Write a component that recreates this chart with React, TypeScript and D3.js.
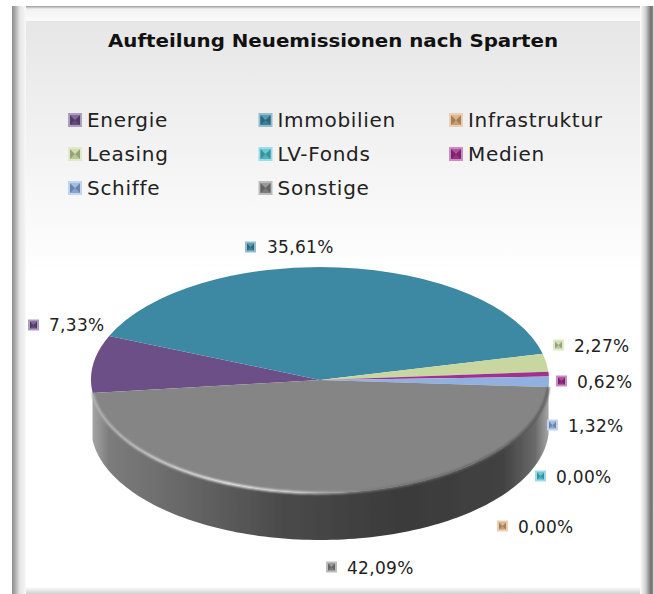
import React from 'react';
import * as d3 from 'd3';

const title = 'Aufteilung Neuemissionen nach Sparten';
const categories = ['Energie', 'Immobilien', 'Infrastruktur', 'Leasing', 'LV-Fonds', 'Medien', 'Schiffe', 'Sonstige'];
const values = [7.33, 35.61, 0, 2.27, 0, 0.62, 1.32, 42.09];
const colors = ['#6c4f87', '#3d89a3', '#d9a878', '#c8d7a0', '#4fc0d0', '#a0308f', '#90b0e0', '#858585'];

// where the value labels sit: marker left, marker centre y, text x, text baseline
const labelSpots = [
  [28, 325, 49, 331],
  [245, 247, 267, 253],
  [497, 526, 518, 533],
  [553, 345, 574, 352],
  [535, 476, 556, 483],
  [556, 381, 577, 388],
  [547, 425, 568, 432],
  [326, 567, 347, 574],
];

const W = 654;
const H = 594;
const cx = 320;
const cy = 380;
const rx = 229;
const ry = 113;
const depth = 47;
const startAngle = (263.4 * Math.PI) / 180;

const pieGen = d3.pie<number>().sort(null).startAngle(startAngle).endAngle(startAngle + 2 * Math.PI);
const slices = pieGen(values);
const arcGen = d3.arc<d3.PieArcDatum<number>>().innerRadius(0).outerRadius(rx);

const ex = (a: number) => cx + rx * Math.sin(a);
const ey = (a: number) => cy - ry * Math.cos(a);

// side wall below the last slice
const last = slices[slices.length - 1];
const rimAngles = d3.range(0, 121).map(i => last.startAngle + ((last.endAngle - last.startAngle) * i) / 120);
const rimPath = d3.area<number>().x(ex).y0(ey).y1(a => ey(a) + depth)(rimAngles) as string;
const edgePath = d3.line<number>().x(ex).y(ey)(rimAngles) as string;

const fmt = (v: number) => v.toFixed(2).replace('.', ',') + '%';

const Marker = ({ x, y, size, color }: { x: number; y: number; size: number; color: string }) => {
  const c = d3.color(color) as d3.RGBColor;
  const light = d3.interpolateRgb(color, '#ffffff')(0.45);
  const dark = c.darker(0.8).formatHex();
  const mid = c.darker(0.2).formatHex();
  const top = d3.interpolateRgb(color, '#ffffff')(0.15);
  const s = size;
  const p = 2;
  return (
    <g transform={`translate(${x},${y})`}>
      <rect width={s} height={s} fill={light} />
      <rect x={p} y={p} width={s - 2 * p} height={s - 2 * p} fill={mid} />
      <path d={`M${p},${p}L${s / 2},${s / 2}L${p},${s - p}Z`} fill={dark} />
      <path d={`M${s - p},${p}L${s / 2},${s / 2}L${s - p},${s - p}Z`} fill={dark} />
      <path d={`M${p},${p}L${s / 2},${s / 2}L${s - p},${p}Z`} fill={top} />
    </g>
  );
};

export default function App() {
  const legendX = d3.scalePoint<number>().domain([0, 1, 2]).range([68, 449]);
  const legendY = d3.scalePoint<number>().domain([0, 1, 2]).range([127, 195]);

  return (
    <svg
      width={W}
      height={H}
      viewBox={`0 0 ${W} ${H}`}
      style={{ position: 'absolute', left: 0, top: 0, background: '#fff' }}
    >
      <defs>
        <linearGradient id="bg" x1="0" y1="0" x2="0" y2="1">
          <stop offset="0" stopColor="#e6e6e6" />
          <stop offset="0.45" stopColor="#ffffff" />
          <stop offset="1" stopColor="#ffffff" />
        </linearGradient>
        <linearGradient id="bevelLeft" x1="0" y1="0" x2="1" y2="0">
          <stop offset="0" stopColor="#8c8c8c" />
          <stop offset="0.2" stopColor="#a8a8a8" />
          <stop offset="0.55" stopColor="#e4e4e4" />
          <stop offset="1" stopColor="#f8f8f8" />
        </linearGradient>
        <linearGradient id="bevelTop" x1="0" y1="0" x2="0" y2="1">
          <stop offset="0" stopColor="#9a9a9a" />
          <stop offset="0.2" stopColor="#f2f2f2" />
          <stop offset="1" stopColor="#fafafa" />
        </linearGradient>
        <linearGradient id="bevelRight" x1="0" y1="0" x2="1" y2="0">
          <stop offset="0" stopColor="#ffffff" />
          <stop offset="0.4" stopColor="#d0d0d0" />
          <stop offset="0.8" stopColor="#6e6e6e" />
          <stop offset="0.9" stopColor="#8a8a8a" />
          <stop offset="1" stopColor="#ffffff" />
        </linearGradient>
        <linearGradient id="bevelBottom" x1="0" y1="0" x2="0" y2="1">
          <stop offset="0" stopColor="#ffffff" />
          <stop offset="1" stopColor="#cfcfcf" />
        </linearGradient>
        <linearGradient id="rim" gradientUnits="userSpaceOnUse" x1={cx - rx} y1="0" x2={cx + rx} y2="0">
          <stop offset="0" stopColor="#a8a8a8" />
          <stop offset="0.04" stopColor="#7c7c7c" />
          <stop offset="0.24" stopColor="#626262" />
          <stop offset="0.42" stopColor="#4a4a4a" />
          <stop offset="0.68" stopColor="#3a3a3a" />
          <stop offset="0.9" stopColor="#424242" />
          <stop offset="0.97" stopColor="#6a6a6a" />
          <stop offset="1" stopColor="#a8a8a8" />
        </linearGradient>
        <linearGradient id="edge" gradientUnits="userSpaceOnUse" x1={cx - rx} y1="0" x2={cx + rx} y2="0">
          <stop offset="0" stopColor="#b0b0b0" />
          <stop offset="0.3" stopColor="#f4f4f4" />
          <stop offset="0.44" stopColor="#dddddd" />
          <stop offset="0.6" stopColor="#7a7a7a" />
          <stop offset="0.85" stopColor="#5c5c5c" />
          <stop offset="1" stopColor="#555555" />
        </linearGradient>
        <filter id="soft" x="-5%" y="-5%" width="110%" height="110%">
          <feGaussianBlur stdDeviation="0.7" />
        </filter>
        <filter id="softEdge" x="-5%" y="-10%" width="110%" height="120%">
          <feGaussianBlur stdDeviation="1.1" />
        </filter>
      </defs>

      {/* frame */}
      <rect x={12} y={6} width={W - 12} height={H - 6} fill="#fff" />
      <rect x={26} y={21} width={614} height={566} fill="url(#bg)" />
      <rect x={12} y={6} width={640} height={15} fill="url(#bevelTop)" />
      <rect x={12} y={6} width={14} height={H - 6} fill="url(#bevelLeft)" />
      <rect x={640} y={6} width={14} height={H - 6} fill="url(#bevelRight)" />
      <rect x={26} y={587} width={614} height={7} fill="url(#bevelBottom)" />

      <text
        x={108}
        y={47}
        textLength={450}
        lengthAdjust="spacingAndGlyphs"
        fontFamily="'DejaVu Sans', Verdana, sans-serif"
        fontWeight="bold"
        fontSize={18}
        fill="#111"
      >
        {title}
      </text>

      {/* legend */}
      {categories.map((name, i) => {
        const col = i % 3;
        const row = Math.floor(i / 3);
        const mx = legendX(col) as number;
        const by = legendY(row) as number;
        return (
          <g key={name}>
            <Marker x={mx} y={by - 14} size={14} color={colors[i]} />
            <text
              x={mx + 19}
              y={by}
              fontFamily="'DejaVu Sans', Verdana, sans-serif"
              fontSize={20}
              letterSpacing={0.7}
              fill="#222"
            >
              {name}
            </text>
          </g>
        );
      })}

      {/* pie */}
      <g filter="url(#soft)">
        <path d={rimPath} fill="url(#rim)" />
        <g transform={`translate(${cx},${cy}) scale(1,${ry / rx})`}>
          {slices.map((s, i) => (
            <path key={categories[i]} d={arcGen(s) as string} fill={colors[i]} />
          ))}
        </g>
      </g>
      <path d={edgePath} fill="none" stroke="url(#edge)" strokeWidth={2.4} filter="url(#softEdge)" />

      {/* value labels */}
      {values.map((v, i) => {
        const [mx, my, tx, ty] = labelSpots[i];
        return (
          <g key={categories[i]}>
            <Marker x={mx} y={my - 5.5} size={11} color={colors[i]} />
            <text
              x={tx}
              y={ty}
              fontFamily="'DejaVu Sans', Verdana, sans-serif"
              fontSize={17}
              letterSpacing={0.3}
              fill="#222"
            >
              {fmt(v)}
            </text>
          </g>
        );
      })}
    </svg>
  );
}
